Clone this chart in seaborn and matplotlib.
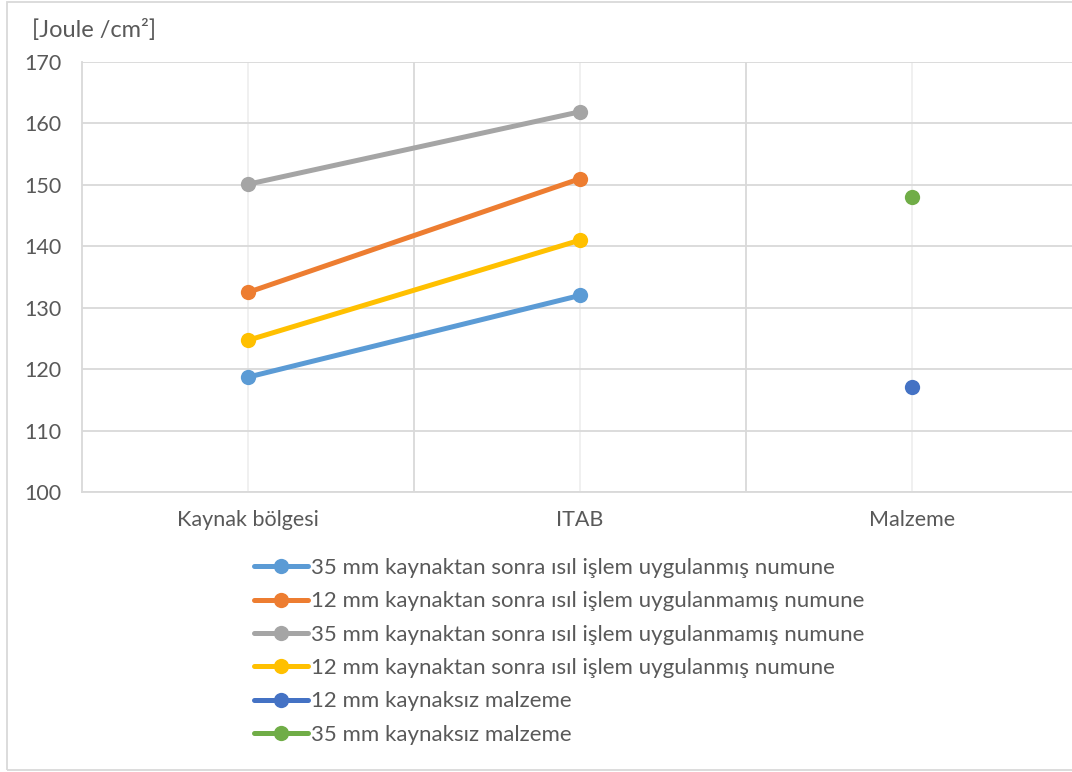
import matplotlib
matplotlib.use("Agg")
import matplotlib.pyplot as plt
import matplotlib.patches as mpatches
from matplotlib.lines import Line2D
import seaborn as sns
import pandas as pd

# Categories on the x axis
categories = ["Kaynak bölgesi", "ITAB", "Malzeme"]

# Impact energy per series [Joule/cm²]
s35_treated = [118.7, 132.0, None]
s12_untreated = [132.5, 151.0, None]
s35_untreated = [150.1, 161.9, None]
s12_treated = [124.7, 141.0, None]
s12_base = [None, None, 117.1]
s35_base = [None, None, 148.1]

series_names = [
    "35 mm kaynaktan sonra ısıl işlem uygulanmış numune",
    "12 mm kaynaktan sonra ısıl işlem uygulanmamış numune",
    "35 mm kaynaktan sonra ısıl işlem uygulanmamış numune",
    "12 mm kaynaktan sonra ısıl işlem uygulanmış numune",
    "12 mm kaynaksız malzeme",
    "35 mm kaynaksız malzeme",
]
series_values = [s35_treated, s12_untreated, s35_untreated, s12_treated, s12_base, s35_base]
colors = ["#5B9BD5", "#ED7D31", "#A5A5A5", "#FFC000", "#4472C4", "#70AD47"]

yticks = [100, 110, 120, 130, 140, 150, 160, 170]
y_title = "[Joule /cm²]"

rows = []
for name, vals in zip(series_names, series_values):
    for i, v in enumerate(vals):
        if v is not None:
            rows.append({"pos": i, "value": v, "series": name})
df = pd.DataFrame(rows)

sns.set_theme(style="white")
plt.rcParams["font.family"] = ["Lato", "DejaVu Sans"]
text_color = "#595959"
grid_color = "#D9D9D9"
fs = 15.5

fig = plt.figure(figsize=(10.72, 7.72), dpi=100)
W, H = 1072, 772
ax = fig.add_axes([82 / W, (H - 492) / H, 996 / W, 430 / H])

palette = dict(zip(series_names, colors))
sns.lineplot(
    data=df, x="pos", y="value", hue="series", hue_order=series_names,
    palette=palette, marker="o", markersize=11, markeredgewidth=0,
    linewidth=3.6, legend=False, ax=ax, sort=False, zorder=3,
)

ax.set_xlim(-0.5, 2.5)
ax.set_ylim(100, 170)
ax.set_yticks(yticks)
ax.set_xticks(range(len(categories)))
ax.set_xticklabels(categories)
ax.set_xticks([0.5, 1.5], minor=True)
ax.set_xlabel("")
ax.set_ylabel("")

ax.grid(axis="y", which="major", color=grid_color, linewidth=1.3, zorder=0)
ax.grid(axis="x", which="minor", color=grid_color, linewidth=1.3, zorder=0)
ax.grid(axis="x", which="major", color="#EFEFEF", linewidth=1.3, zorder=0)

ax.tick_params(axis="y", which="both", length=0, pad=15, labelsize=fs, labelcolor=text_color)
ax.tick_params(axis="x", which="both", length=0, pad=13, labelsize=fs, labelcolor=text_color)

for side in ["top", "right"]:
    ax.spines[side].set_visible(False)
for side in ["left", "bottom"]:
    ax.spines[side].set_color(grid_color)
    ax.spines[side].set_linewidth(1.3)

fig.text(32 / W, 1 - 30 / H, y_title, ha="left", va="center", fontsize=17, color=text_color)

handles = [
    Line2D([], [], color=c, linewidth=3.6, marker="o", markersize=11, markeredgewidth=0)
    for c in colors
]
fig.legend(
    handles, series_names, loc="upper left", bbox_to_anchor=(254 / W, 1 - 558 / H),
    frameon=False, fontsize=16, handlelength=2.45, handletextpad=0.12,
    labelspacing=0.6, borderpad=0, borderaxespad=0, labelcolor=text_color,
)

# Chart area border
fig.patches.append(mpatches.Rectangle(
    (7 / W, 2 / H), 1.2, 1 - 4 / H, transform=fig.transFigure,
    fill=False, edgecolor=grid_color, linewidth=1.3,
))

fig.savefig("out.png", dpi=100)
